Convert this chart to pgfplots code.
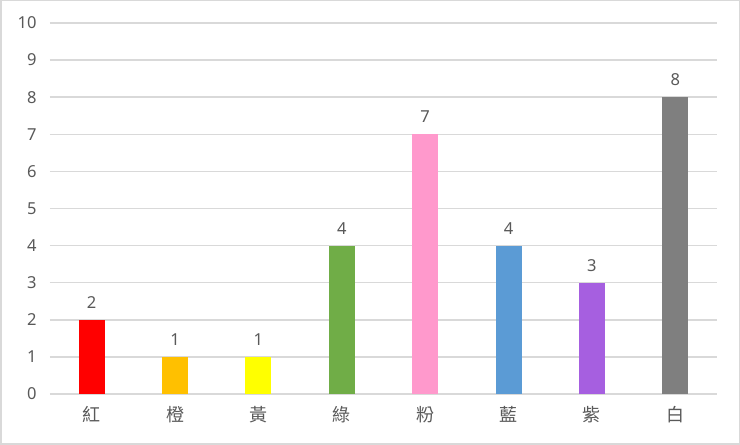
\documentclass[border=0pt]{standalone}
\usepackage{fontspec}
\setmainfont{Noto Sans}
\newfontfamily\cjk{Noto Sans CJK TC}
\usepackage{pgfplots}
\pgfplotsset{compat=1.18}
\definecolor{txt}{HTML}{595959}
\definecolor{grid}{HTML}{D9D9D9}
\definecolor{cred}{HTML}{FF0000}
\definecolor{corange}{HTML}{FFC000}
\definecolor{cyellow}{HTML}{FFFF00}
\definecolor{cgreen}{HTML}{70AD47}
\definecolor{cpink}{HTML}{FF99CC}
\definecolor{cblue}{HTML}{5B9BD5}
\definecolor{cpurple}{HTML}{A65FE0}
\definecolor{cgray}{HTML}{7F7F7F}
\begin{document}
\begin{tikzpicture}[x=1pt,y=1pt]
\fill[white] (0,0) rectangle (740,445);
\draw[color=grid, line width=1.5pt] (0.75,0.75) rectangle (739.25,444.25);
\begin{axis}[
  at={(50pt,51pt)}, anchor=south west,
  scale only axis, width=667pt, height=371pt,
  xmin=-0.5, xmax=7.5, ymin=0, ymax=10,
  ytick={0,1,...,10},
  xtick={0,...,7},
  xticklabels={紅,橙,黃,綠,粉,藍,紫,白},
  xticklabel style={font=\cjk\fontsize{18}{20}\selectfont, text=txt, yshift=-9pt},
  yticklabel style={font=\fontsize{16.5}{18}\selectfont, text=txt, xshift=-10pt},
  /pgf/number format/assume math mode=true,
  axis line style={draw=none},
  major tick length=0pt,
  ymajorgrids, grid style={color=grid, line width=1.5pt},
  clip=false,
]
\addplot[ybar, bar width=26pt, fill=cred, draw=none] coordinates {(0,2)};
\addplot[ybar, bar width=26pt, fill=corange, draw=none] coordinates {(1,1)};
\addplot[ybar, bar width=26pt, fill=cyellow, draw=none] coordinates {(2,1)};
\addplot[ybar, bar width=26pt, fill=cgreen, draw=none] coordinates {(3,4)};
\addplot[ybar, bar width=26pt, fill=cpink, draw=none] coordinates {(4,7)};
\addplot[ybar, bar width=26pt, fill=cblue, draw=none] coordinates {(5,4)};
\addplot[ybar, bar width=26pt, fill=cpurple, draw=none] coordinates {(6,3)};
\addplot[ybar, bar width=26pt, fill=cgray, draw=none] coordinates {(7,8)};
\addplot[only marks, mark=none, nodes near coords,
  nodes near coords style={font=\fontsize{16.5}{18}\selectfont, text=txt, anchor=south, yshift=8pt},
  point meta=explicit symbolic]
  coordinates {(0,2)[2] (1,1)[1] (2,1)[1] (3,4)[4] (4,7)[7] (5,4)[4] (6,3)[3] (7,8)[8]};
\end{axis}
\end{tikzpicture}
\end{document}
